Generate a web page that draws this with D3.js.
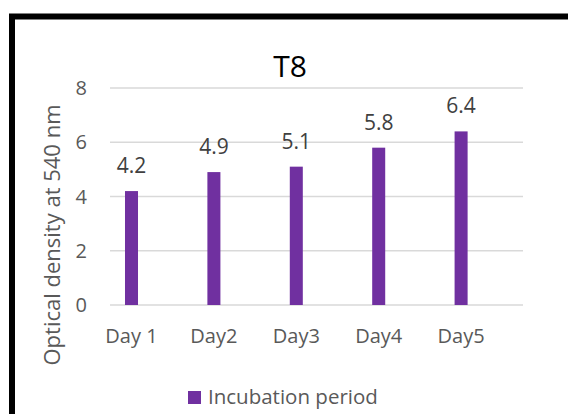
<!DOCTYPE html>
<html>
<head>
<meta charset="utf-8">
<script src="https://cdn.jsdelivr.net/npm/d3@7"></script>
<style>
  html, body { margin: 0; padding: 0; background: #fff; }
  svg { display: block; }
  text { font-family: "Open Sans", "Noto Sans", sans-serif; }
</style>
</head>
<body>
<svg id="chart" width="568" height="414"></svg>
<script>
const categories = ["Day 1", "Day2", "Day3", "Day4", "Day5"];
const values = [4.2, 4.9, 5.1, 5.8, 6.4];
const yTicks = [0, 2, 4, 6, 8];
const seriesName = "Incubation period";
const chartTitle = "T8";
const yTitle = "Optical density at 540 nm";

const svg = d3.select("#chart");
const barColor = "#7030A0";

// frame
svg.append("rect")
  .attr("x", 12).attr("y", 16.5)
  .attr("width", 700).attr("height", 700)
  .attr("fill", "none").attr("stroke", "#000").attr("stroke-width", 6);

const y = d3.scaleLinear().domain([0, 8]).range([305, 88]);
const x = d3.scaleBand().domain(categories).range([90.3, 502.3]).paddingInner(0.842).paddingOuter(0.421);
const gridX0 = 110, gridX1 = 523;

// gridlines
svg.append("g").selectAll("line").data(yTicks).join("line")
  .attr("x1", gridX0).attr("x2", gridX1)
  .attr("y1", d => y(d)).attr("y2", d => y(d))
  .attr("stroke", "#d9d9d9").attr("stroke-width", 1.5);

// y tick labels
svg.append("g").selectAll("text").data(yTicks).join("text")
  .attr("x", 87).attr("y", d => y(d))
  .attr("dy", "0.36em")
  .attr("text-anchor", "end")
  .attr("font-size", 20).attr("fill", "#595959")
  .text(d => d);

// bars
svg.append("g").selectAll("rect").data(values).join("rect")
  .attr("x", (d, i) => x(categories[i]))
  .attr("width", x.bandwidth())
  .attr("y", d => y(d))
  .attr("height", d => y(0) - y(d))
  .attr("fill", barColor);

// data labels
svg.append("g").selectAll("text").data(values).join("text")
  .attr("x", (d, i) => x(categories[i]) + x.bandwidth() / 2)
  .attr("y", d => y(d) - 18)
  .attr("text-anchor", "middle")
  .attr("font-size", 21).attr("fill", "#404040")
  .text(d => d.toFixed(1));

// x labels
svg.append("g").selectAll("text").data(categories).join("text")
  .attr("x", d => x(d) + x.bandwidth() / 2)
  .attr("y", 343)
  .attr("text-anchor", "middle")
  .attr("font-size", 20).attr("fill", "#595959")
  .text(d => d);

// title
svg.append("text")
  .attr("x", 290).attr("y", 77)
  .attr("text-anchor", "middle")
  .attr("font-size", 30).attr("fill", "#000")
  .text(chartTitle);

// y title
svg.append("text")
  .attr("transform", "translate(60,235) rotate(-90)")
  .attr("text-anchor", "middle")
  .attr("font-size", 22).attr("fill", "#595959")
  .text(yTitle);

// legend
svg.append("rect")
  .attr("x", 188).attr("y", 391).attr("width", 13).attr("height", 13)
  .attr("fill", barColor);
svg.append("text")
  .attr("x", 208).attr("y", 404)
  .attr("font-size", 20.5).attr("fill", "#595959")
  .text(seriesName);
</script>
</body>
</html>
